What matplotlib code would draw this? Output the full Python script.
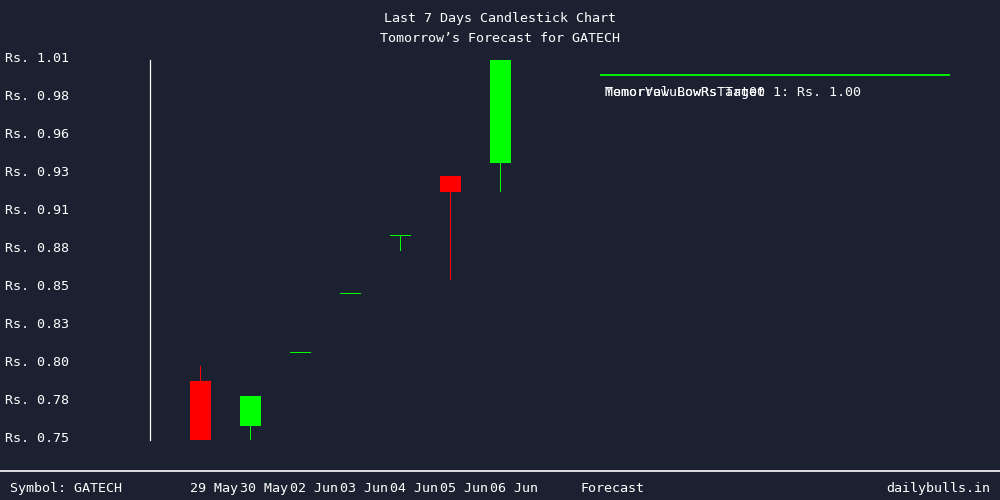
"""
Candlestick chart for the last 7 trading days plus tomorrow's forecast target.
"""

import numpy as np
import matplotlib
matplotlib.use("Agg")
import matplotlib.pyplot as plt
import matplotlib.transforms as mtransforms

# Chart data
symbol = "GATECH"
dates = ["29 May", "30 May", "02 Jun", "03 Jun", "04 Jun", "05 Jun", "06 Jun"]
opens = [0.7904, 0.7596, 0.810, 0.8503, 0.890, 0.9306, 0.9397]
highs = [0.8006, 0.7801, 0.810, 0.8503, 0.890, 0.9306, 1.010]
lows = [0.750, 0.750, 0.810, 0.8503, 0.8795, 0.8594, 0.9198]
closes = [0.750, 0.7801, 0.810, 0.8503, 0.890, 0.9198, 1.010]
target_price = 1.00

# overlapping legend texts (they sit on top of each other in the original)
legend_texts = ["MemorValuBowRsTarget 1: Rs. 1.00", "Tomorrow LowRs Tat00"]

BG = "#1b2130"
UP = "#00ff00"
DOWN = "#ff0000"
FONT = "DejaVu Sans Mono"
FS = 9.6


def main():
    plt.rcParams["font.family"] = FONT
    fig = plt.figure(figsize=(10, 5), dpi=100, facecolor=BG)
    ax = fig.add_axes([0.15, 0.12, 0.80, 0.76], facecolor=BG)

    ymin, ymax = min(lows), max(highs)
    ax.set_ylim(ymin, ymax)
    ax.set_xlim(-1.01, 14.99)

    # one screen pixel in data units, so wicks come out as crisp 1px marks
    px_x = 16.0 / 800
    px_y = (ymax - ymin) / 380

    x = np.arange(len(dates))
    width = 0.42

    for i in x:
        o, h, l, c = opens[i], highs[i], lows[i], closes[i]
        color = DOWN if c < o else UP
        if h > l:
            ax.bar(i, h - l, bottom=l, width=px_x, color=color, linewidth=0)
        if abs(c - o) < 1e-9:
            ax.bar(i, px_y, bottom=o - px_y / 2, width=width, color=color,
                   linewidth=0)
        else:
            ax.bar(i, abs(c - o), bottom=min(o, c), width=width, color=color,
                   linewidth=0)

    # forecast target line
    ax.hlines(target_price, 7.99, 14.99, color=UP, linewidth=1.3)
    for t in legend_texts:
        ax.annotate(t, xy=(7.99, target_price), xytext=(3.6, -12.8),
                    textcoords="offset points", color="white", fontsize=FS,
                    va="center", ha="left")

    ticks = np.linspace(ymin, ymax, 11)
    ax.set_yticks(ticks)
    ax.set_yticklabels([f"Rs. {v:.2f}" for v in ticks])
    ax.tick_params(axis="y", length=0, pad=104.4, colors="white", labelsize=FS)
    shift = mtransforms.ScaledTranslation(0, 3 / 100, fig.dpi_scale_trans)
    for lab in ax.get_yticklabels():
        lab.set_horizontalalignment("left")
        lab.set_transform(lab.get_transform() + shift)
    ax.set_xticks([])

    for side in ["top", "right", "bottom"]:
        ax.spines[side].set_visible(False)
    ax.spines["left"].set_color("white")
    ax.spines["left"].set_linewidth(0.9)

    # titles
    fig.text(0.5, 1 - 18.5 / 500, "Last 7 Days Candlestick Chart", ha="center",
             va="center", color="white", fontsize=FS)
    fig.text(0.5, 1 - 38 / 500, f"Tomorrow\u2019s Forecast for {symbol}",
             ha="center", va="center", color="white", fontsize=FS)

    # footer
    fig.add_artist(plt.Line2D([0, 1], [1 - 470.5 / 500] * 2, color="white",
                              linewidth=1.2, transform=fig.transFigure))
    fy = 1 - 488.5 / 500
    fig.text(0.01, fy, f"Symbol: {symbol}", ha="left", va="center",
             color="white", fontsize=FS)
    trans = mtransforms.blended_transform_factory(ax.transData, fig.transFigure)
    for i, d in enumerate(dates):
        ax.text(i - width / 2, fy, d, transform=trans, ha="left", va="center",
                color="white", fontsize=FS, clip_on=False)
    fig.text(0.58, fy, "Forecast", ha="left", va="center", color="white",
             fontsize=FS)
    fig.text(0.99, fy, "dailybulls.in", ha="right", va="center", color="white",
             fontsize=FS)

    fig.savefig("out.png", dpi=100, facecolor=BG)


if __name__ == "__main__":
    main()
